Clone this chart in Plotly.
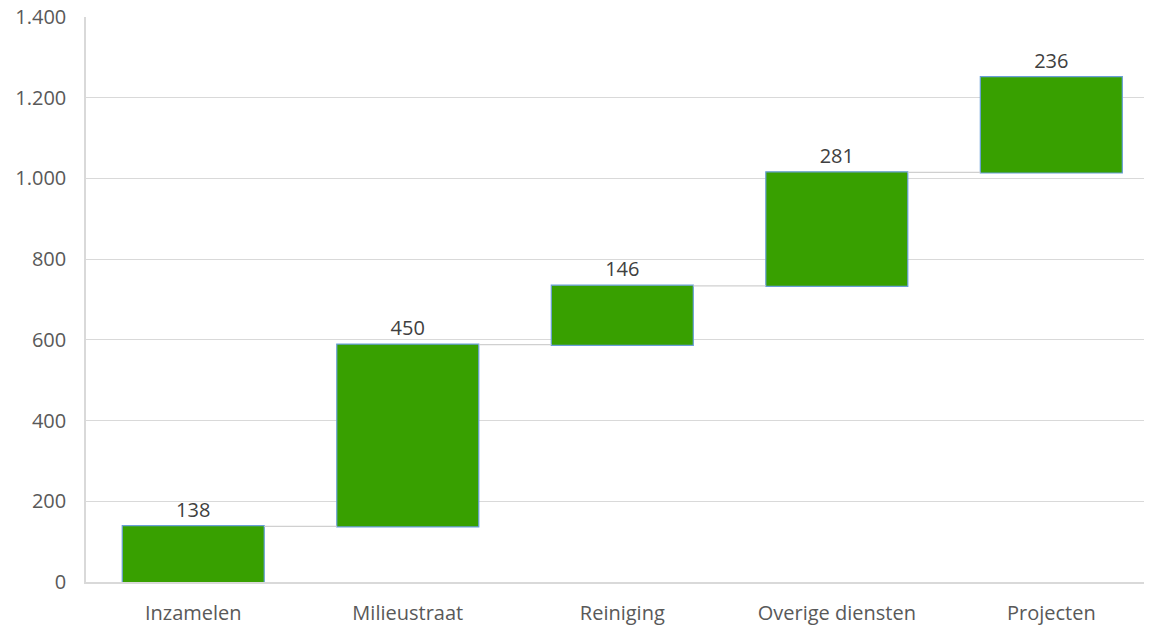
import plotly.graph_objects as go

categories = ["Inzamelen", "Milieustraat", "Reiniging", "Overige diensten", "Projecten"]
values = [138, 450, 146, 281, 236]
y_ticks = [0, 200, 400, 600, 800, 1000, 1200, 1400]

FONT = "Open Sans, Liberation Sans, sans-serif"

fig = go.Figure(go.Waterfall(
    x=categories,
    y=values,
    measure=["relative"] * len(values),
    text=[str(v) for v in values],
    textposition="outside",
    textfont=dict(size=20, color="#404040", family=FONT),
    increasing=dict(marker=dict(color="#38A000", line=dict(color="#6A9FD8", width=1.2))),
    connector=dict(mode="between", line=dict(color="#D0D0D0", width=1.2)),
    width=0.662,
    cliponaxis=False,
))

# page body has an 8px margin, so the figure is sized to fit the window
fig.update_layout(
    width=1144, height=623,
    margin=dict(l=78, r=2, t=9, b=49),
    paper_bgcolor="white", plot_bgcolor="white",
    separators=",.",
    showlegend=False,
    font=dict(family=FONT, size=20, color="#595959"),
    xaxis=dict(range=[-0.5, 4.46], showgrid=False, showline=True, linecolor="#D9D9D9", linewidth=1.5,
               ticks="", ticklabelstandoff=12, automargin=False,
               tickfont=dict(size=20, color="#595959")),
    yaxis=dict(range=[0, 1400], tickvals=y_ticks, tickformat=",d",
               showgrid=True, gridcolor="#D9D9D9", gridwidth=1.2,
               showline=True, linecolor="#D9D9D9", linewidth=1.5,
               zeroline=False, ticks="", ticklabelstandoff=14, automargin=False,
               ticklabeloverflow="allow",
               tickfont=dict(size=20, color="#595959")),
)

fig.write_html("out.html")
